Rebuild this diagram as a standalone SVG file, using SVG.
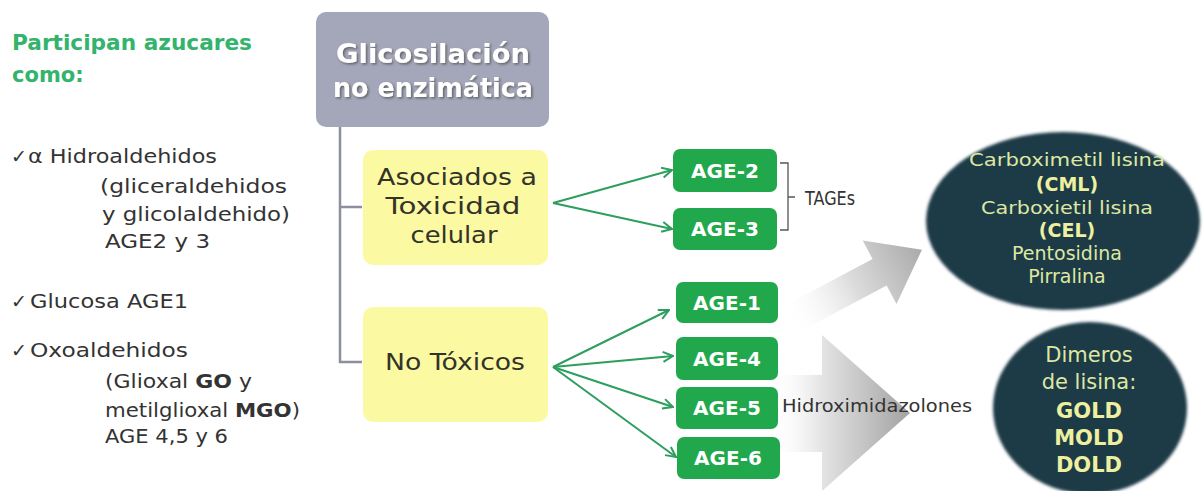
<svg xmlns="http://www.w3.org/2000/svg" width="1204" height="491" viewBox="0 0 1204 491">
<style>
.t{font-family:"DejaVu Sans","Liberation Sans",sans-serif;fill:#333333;font-size:20px}
.g{font-family:"DejaVu Sans","Liberation Sans",sans-serif;fill:#33b36b;font-size:21px;font-weight:bold}
.title{font-family:"DejaVu Sans","Liberation Sans",sans-serif;fill:#ffffff;font-size:27px;font-weight:bold;text-anchor:middle}
.y{font-family:"DejaVu Sans","Liberation Sans",sans-serif;fill:#33332a;font-size:23px;text-anchor:middle}
.age rect{fill:#22a84c}
.age text{font-family:"DejaVu Sans","Liberation Sans",sans-serif;fill:#ffffff;font-size:20px;font-weight:bold;text-anchor:middle}
.e{font-family:"DejaVu Sans","Liberation Sans",sans-serif;fill:#dfe7a3;font-size:18px;text-anchor:middle}
.eb{font-family:"DejaVu Sans","Liberation Sans",sans-serif;fill:#eef0a0;font-size:20px;font-weight:bold;text-anchor:middle}
.ybox{fill:#fcf9a3}
.conn{stroke:#2e9e5e;stroke-width:2;fill:none;marker-end:url(#ah)}
</style>
<defs>
<marker id="ah" viewBox="0 0 12 12" refX="11" refY="6" markerWidth="12" markerHeight="12" markerUnits="userSpaceOnUse" orient="auto">
<path d="M1,1 L11,6 L1,11" fill="none" stroke="#2e9e5e" stroke-width="2"/>
</marker>
<filter id="sh" x="-10%" y="-20%" width="130%" height="150%">
<feDropShadow dx="1.5" dy="1.5" stdDeviation="1" flood-color="#555" flood-opacity="0.8"/>
</filter>
<filter id="soft" x="-10%" y="-10%" width="120%" height="120%">
<feGaussianBlur stdDeviation="1.8"/>
</filter>
<linearGradient id="ga1" x1="0" y1="0" x2="1" y2="0">
<stop offset="0" stop-color="#ffffff" stop-opacity="0"/>
<stop offset="0.5" stop-color="#dcdcdc"/>
<stop offset="1" stop-color="#aaaaaa"/>
</linearGradient>
<linearGradient id="ga2" x1="770" y1="0" x2="910" y2="0" gradientUnits="userSpaceOnUse">
<stop offset="0" stop-color="#ffffff" stop-opacity="0"/>
<stop offset="0.35" stop-color="#e6e6e6"/>
<stop offset="1" stop-color="#a2a2a2"/>
</linearGradient>
</defs>
<rect width="1204" height="491" fill="#ffffff"/>

<g id="left-text">
<text class="g" x="12" y="50" textLength="240" lengthAdjust="spacingAndGlyphs">Participan azucares</text>
<text class="g" x="12" y="82">como:</text>
<text class="t" x="11" y="163" style="font-size:19px">✓</text>
<text class="t" x="28" y="163" textLength="189" lengthAdjust="spacingAndGlyphs">α Hidroaldehidos</text>
<text class="t" x="100" y="193" textLength="187" lengthAdjust="spacingAndGlyphs">(gliceraldehidos</text>
<text class="t" x="102" y="221" textLength="188" lengthAdjust="spacingAndGlyphs">y glicolaldehido)</text>
<text class="t" x="105" y="248" textLength="105" lengthAdjust="spacingAndGlyphs">AGE2 y 3</text>
<text class="t" x="11" y="308" style="font-size:19px">✓</text>
<text class="t" x="30" y="308" textLength="158" lengthAdjust="spacingAndGlyphs">Glucosa AGE1</text>
<text class="t" x="11" y="357" style="font-size:19px">✓</text>
<text class="t" x="30" y="357" textLength="158" lengthAdjust="spacingAndGlyphs">Oxoaldehidos</text>
<text class="t" x="105" y="388" textLength="147" lengthAdjust="spacingAndGlyphs">(Glioxal <tspan font-weight="bold">GO</tspan> y</text>
<text class="t" x="105" y="417" textLength="195" lengthAdjust="spacingAndGlyphs">metilglioxal <tspan font-weight="bold">MGO</tspan>)</text>
<text class="t" x="105" y="443" textLength="123" lengthAdjust="spacingAndGlyphs">AGE 4,5 y 6</text>
</g>

<g id="gray-arrows">
<g transform="translate(786,322) rotate(-28)">
<polygon points="0,-15 106,-15 106,-36 154,0 106,36 106,15 0,15" fill="url(#ga1)"/>
</g>
<polygon points="770,375 822,375 822,335 910,413 822,491 822,452 770,452" fill="url(#ga2)"/>
</g>

<g id="connectors">
<path d="M340,127 V362 H362 M340,207 H362" stroke="#8c8fa0" stroke-width="2.5" fill="none"/>
<line class="conn" x1="553" y1="203" x2="672" y2="170"/>
<line class="conn" x1="553" y1="203" x2="672" y2="229"/>
<line class="conn" x1="553" y1="367" x2="669" y2="310"/>
<line class="conn" x1="553" y1="367" x2="673" y2="356"/>
<line class="conn" x1="553" y1="367" x2="673" y2="407"/>
<line class="conn" x1="553" y1="367" x2="676" y2="457"/>
<path d="M780,163 H788 V230 H780 M788,197 H795" stroke="#555555" stroke-width="1.3" fill="none"/>
</g>

<g id="glicosilacion">
<rect x="316" y="12" width="233" height="115" rx="10" fill="#a4a7b9"/>
<text class="title" x="433" y="63" filter="url(#sh)" textLength="194" lengthAdjust="spacingAndGlyphs">Glicosilación</text>
<text class="title" x="433" y="97" filter="url(#sh)" textLength="200" lengthAdjust="spacingAndGlyphs">no enzimática</text>
</g>

<g id="asociados">
<rect class="ybox" x="363" y="150" width="185" height="115" rx="10"/>
<text class="y" x="457" y="185" textLength="160" lengthAdjust="spacingAndGlyphs">Asociados a</text>
<text class="y" x="453" y="214" textLength="135" lengthAdjust="spacingAndGlyphs">Toxicidad</text>
<text class="y" x="454" y="243" textLength="87" lengthAdjust="spacingAndGlyphs">celular</text>
</g>

<g id="no-toxicos">
<rect class="ybox" x="363" y="307" width="185" height="115" rx="10"/>
<text class="y" x="455" y="370" textLength="140" lengthAdjust="spacingAndGlyphs">No Tóxicos</text>
</g>

<g id="age2" class="age"><rect x="673" y="149" width="104" height="43" rx="7"/><text x="725" y="178">AGE-2</text></g>
<g id="age3" class="age"><rect x="673" y="208" width="104" height="42" rx="7"/><text x="725" y="236">AGE-3</text></g>
<g id="age1" class="age"><rect x="676" y="282" width="102" height="41" rx="7"/><text x="727" y="310">AGE-1</text></g>
<g id="age4" class="age"><rect x="676" y="337" width="102" height="43" rx="7"/><text x="727" y="366">AGE-4</text></g>
<g id="age5" class="age"><rect x="676" y="387" width="102" height="42" rx="7"/><text x="727" y="415">AGE-5</text></g>
<g id="age6" class="age"><rect x="677" y="437" width="103" height="42" rx="7"/><text x="728" y="465">AGE-6</text></g>

<g id="tages">
<text class="t" x="805" y="205" style="font-size:19px" textLength="50" lengthAdjust="spacingAndGlyphs">TAGEs</text>
</g>

<g id="hidroximidazolones">
<text class="t" x="782" y="412" style="font-size:18px" textLength="190" lengthAdjust="spacingAndGlyphs">Hidroximidazolones</text>
</g>

<g id="ellipse-cml">
<ellipse cx="1063" cy="221" rx="137" ry="89" fill="#1e3a46" filter="url(#soft)"/>
<text class="e" x="1067" y="166" textLength="196" lengthAdjust="spacingAndGlyphs">Carboximetil lisina</text>
<text class="eb" x="1067" y="191" style="font-size:19px">(CML)</text>
<text class="e" x="1067" y="214" textLength="172" lengthAdjust="spacingAndGlyphs">Carboxietil lisina</text>
<text class="eb" x="1067" y="237" style="font-size:19px">(CEL)</text>
<text class="e" x="1067" y="260" style="font-size:19px">Pentosidina</text>
<text class="e" x="1067" y="283" style="font-size:19px">Pirralina</text>
</g>

<g id="ellipse-dimeros">
<ellipse cx="1090" cy="408" rx="97" ry="86" fill="#1e3a46" filter="url(#soft)"/>
<text class="e" x="1089" y="362" style="font-size:21px">Dimeros</text>
<text class="e" x="1089" y="389" style="font-size:21px">de lisina:</text>
<text class="eb" x="1089" y="418" style="font-size:21px">GOLD</text>
<text class="eb" x="1089" y="445" style="font-size:21px">MOLD</text>
<text class="eb" x="1089" y="472" style="font-size:21px">DOLD</text>
</g>
</svg>
